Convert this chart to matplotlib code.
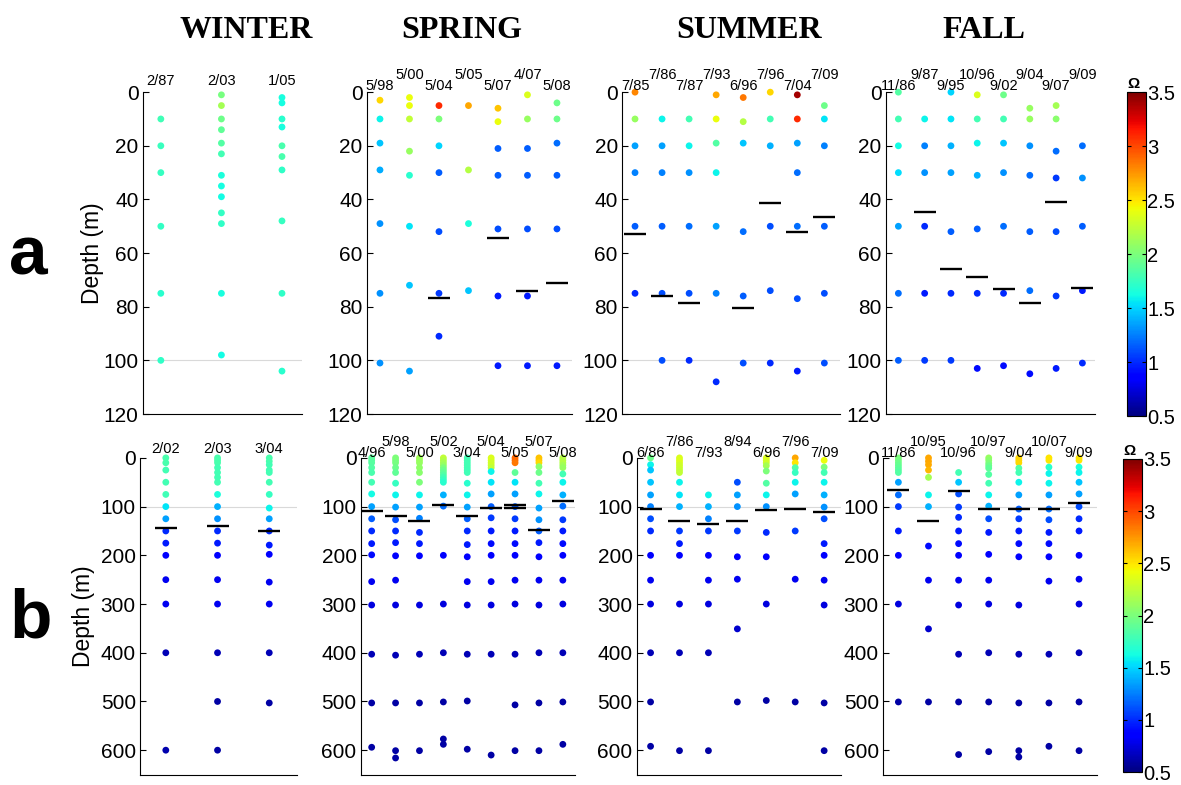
import numpy as np
import matplotlib
matplotlib.use('Agg')
import matplotlib.pyplot as plt
from matplotlib.colors import Normalize
from matplotlib.cm import ScalarMappable

plt.rcParams['font.family'] = ['Liberation Sans', 'DejaVu Sans']

# ---------------- (a) upper 120 m ----------------
a_winter_dates = ['2/87', '2/03', '1/05']
a_winter_depth = [[10, 20, 30, 50, 75, 100],
                  [1, 5, 10, 14, 19, 23, 31, 35, 39, 45, 49, 75, 98],
                  [2, 4, 10, 13, 20, 24, 29, 48, 75, 104]]
a_winter_omega = [[1.78, 1.76, 1.75, 1.74, 1.7, 1.72],
                  [1.98, 2.15, 1.95, 1.9, 1.85, 1.8, 1.66, 1.63, 1.62, 1.74, 1.72, 1.64, 1.62],
                  [1.64, 1.63, 1.7, 1.64, 1.82, 1.82, 1.72, 1.75, 1.73, 1.7]]
a_winter_horizon = [[], [], []]

a_spring_dates = ['5/98', '5/00', '5/04', '5/05', '5/07', '4/07', '5/08']
a_spring_depth = [[3, 10, 19, 29, 49, 75, 101],
                  [2, 5, 10, 22, 31, 50, 72, 104],
                  [5, 10, 20, 30, 52, 75, 91],
                  [5, 29, 49, 74],
                  [6, 11, 21, 31, 51, 76, 102],
                  [1, 10, 21, 31, 51, 76, 102],
                  [4, 10, 19, 31, 51, 102]]
a_spring_omega = [[2.55, 1.6, 1.45, 1.38, 1.3, 1.3, 1.3],
                  [2.4, 2.4, 2.25, 2.1, 1.7, 1.55, 1.45, 1.35],
                  [3.1, 2.0, 1.5, 1.15, 1.1, 1.05, 1.0],
                  [2.7, 2.2, 1.65, 1.45],
                  [2.6, 2.4, 1.15, 1.15, 1.1, 0.95, 0.95],
                  [2.35, 2.1, 1.15, 1.15, 1.1, 0.95, 0.95],
                  [1.95, 1.95, 1.2, 1.15, 1.1, 0.95]]
a_spring_horizon = [[], [], [76.6], [], [54.4], [74.3], [71.1]]

a_summer_dates = ['7/85', '7/86', '7/87', '7/93', '6/96', '7/96', '7/04', '7/09']
a_summer_depth = [[0, 10, 20, 30, 50, 75],
                  [10, 20, 30, 50, 75, 100],
                  [10, 20, 30, 50, 75, 100],
                  [1, 10, 19, 30, 50, 75, 108],
                  [2, 11, 19, 52, 76, 101],
                  [0, 10, 20, 50, 74, 101],
                  [1, 10, 19, 30, 50, 77, 104],
                  [5, 10, 20, 50, 75, 101]]
a_summer_omega = [[2.8, 2.1, 1.35, 1.25, 1.15, 1.0],
                  [1.6, 1.35, 1.25, 1.15, 1.1, 1.1],
                  [1.8, 1.6, 1.3, 1.2, 1.1, 1.0],
                  [2.7, 2.4, 1.85, 1.6, 1.35, 1.25, 1.0],
                  [2.85, 2.2, 1.45, 1.2, 1.15, 1.1],
                  [2.55, 1.8, 1.4, 1.1, 1.1, 1.0],
                  [3.4, 3.1, 1.35, 1.2, 1.2, 1.1, 0.95],
                  [1.95, 1.55, 1.25, 1.15, 1.1, 1.1]]
a_summer_horizon = [[53], [76], [78.5], [], [80.6], [41.5], [52.2], [46.5]]

a_fall_dates = ['11/86', '9/87', '9/95', '10/96', '9/02', '9/04', '9/07', '9/09']
a_fall_depth = [[0, 10, 20, 30, 50, 75, 100],
                [10, 20, 30, 50, 75, 100],
                [0, 10, 20, 30, 52, 75, 100],
                [1, 10, 19, 31, 51, 75, 103],
                [1, 10, 19, 30, 50, 75, 102],
                [6, 10, 20, 31, 52, 74, 105],
                [5, 10, 22, 32, 52, 76, 103],
                [20, 32, 50, 74, 101]]
a_fall_omega = [[1.85, 1.8, 1.62, 1.52, 1.35, 1.2, 1.15],
                [1.6, 1.25, 1.3, 1.0, 0.95, 1.05],
                [1.5, 1.55, 1.4, 1.35, 1.15, 1.0, 1.05],
                [2.35, 1.8, 1.6, 1.4, 1.15, 1.0, 0.9],
                [1.95, 1.8, 1.45, 1.3, 1.2, 1.0, 0.9],
                [2.1, 2.1, 1.3, 1.2, 1.15, 1.2, 0.9],
                [2.15, 2.05, 1.2, 1.05, 1.1, 1.05, 0.95],
                [1.2, 1.3, 1.15, 0.95, 1.0]]
a_fall_horizon = [[], [44.8], [65.8], [68.9], [73.3], [78.6], [40.8], [73]]

# ---------------- (b) full water column ----------------
b_winter_dates = ['2/02', '2/03', '3/04']
b_winter_depth = [[0, 10, 25, 50, 75, 100, 125, 150, 175, 200, 250, 300, 400, 600],
                  [0, 5, 10, 20, 30, 40, 50, 75, 100, 125, 150, 175, 200, 250, 300, 400, 500, 600],
                  [0, 7, 14, 25, 30, 50, 75, 103, 125, 150, 179, 198, 255, 300, 400, 503]]
b_winter_omega = [[1.82, 1.82, 1.8, 1.8, 1.78, 1.55, 1.35, 1.0, 0.95, 0.85, 0.8, 0.8, 0.65, 0.62],
                  [1.82, 1.82, 1.82, 1.8, 1.8, 1.8, 1.8, 1.65, 1.4, 1.3, 1.0, 0.95, 0.85, 0.8, 0.8, 0.65, 0.6, 0.6],
                  [1.82, 1.82, 1.8, 1.8, 1.8, 1.8, 1.75, 1.6, 1.35, 1.0, 0.95, 0.85, 0.8, 0.8, 0.65, 0.6]]
b_winter_horizon = [[144.5], [140], [151]]

b_spring_dates = ['4/96', '5/98', '5/00', '5/02', '3/04', '5/04', '5/05', '5/07', '5/08']
b_spring_depth = [[0, 5, 10, 20, 30, 50, 74, 100, 125, 150, 176, 199, 254, 302, 403, 503, 594],
                  [0, 5, 10, 20, 30, 52, 76, 101, 127, 150, 174, 201, 251, 302, 405, 503, 601, 616],
                  [0, 5, 10, 20, 30, 50, 76, 101, 124, 153, 176, 201, 302, 403, 503, 601],
                  [0, 5, 10, 15, 20, 25, 30, 35, 40, 45, 50, 76, 99, 200, 300, 400, 501, 577, 588],
                  [0, 5, 10, 15, 20, 25, 30, 52, 76, 101, 125, 150, 178, 203, 254, 302, 403, 499, 598],
                  [0, 5, 10, 15, 20, 28, 50, 74, 100, 123, 150, 176, 200, 254, 302, 403, 610],
                  [0, 5, 10, 30, 50, 74, 100, 125, 150, 176, 200, 251, 300, 403, 507, 601],
                  [0, 5, 10, 18, 30, 52, 74, 103, 127, 150, 174, 203, 251, 302, 400, 503, 601],
                  [0, 5, 10, 15, 20, 33, 50, 76, 99, 127, 150, 176, 200, 251, 300, 400, 501, 588]]
b_spring_omega = [[1.88, 1.88, 1.87, 1.85, 1.82, 1.8, 1.62, 1.35, 1.15, 1.0, 0.95, 0.9, 0.8, 0.75, 0.65, 0.6, 0.6],
                  [2.0, 2.0, 1.98, 1.95, 1.9, 1.75, 1.6, 1.35, 1.1, 1.0, 0.95, 0.85, 0.8, 0.75, 0.65, 0.6, 0.6, 0.6],
                  [2.15, 2.12, 2.1, 2.08, 2.05, 2.0, 1.6, 1.35, 1.25, 1.0, 0.95, 0.85, 0.75, 0.65, 0.6, 0.6],
                  [2.25, 2.2, 2.15, 2.1, 2.0, 1.95, 1.9, 1.85, 1.8, 1.75, 1.7, 1.4, 1.2, 0.85, 0.75, 0.65, 0.6, 0.6, 0.6],
                  [1.8, 1.8, 1.8, 1.8, 1.8, 1.78, 1.78, 1.7, 1.6, 1.35, 1.15, 1.0, 0.95, 0.85, 0.8, 0.75, 0.65, 0.6, 0.6],
                  [2.35, 2.35, 2.3, 2.3, 2.25, 1.6, 1.55, 1.35, 1.15, 1.05, 0.95, 0.9, 0.85, 0.8, 0.75, 0.65, 0.6],
                  [2.9, 2.9, 2.85, 1.9, 1.55, 1.35, 1.15, 1.05, 0.95, 0.9, 0.85, 0.8, 0.75, 0.65, 0.6, 0.6],
                  [2.6, 2.6, 2.55, 2.05, 1.95, 1.8, 1.6, 1.35, 1.3, 1.15, 0.95, 0.85, 0.8, 0.75, 0.65, 0.6, 0.6],
                  [2.2, 2.2, 2.2, 2.15, 2.1, 1.8, 1.6, 1.4, 1.2, 1.05, 0.95, 0.9, 0.85, 0.8, 0.75, 0.65, 0.6, 0.6]]
b_spring_horizon = [[110], [118.5], [129.5], [96], [118.5], [103], [96, 103.4], [149], [88]]

b_summer_dates = ['6/86', '7/86', '7/93', '8/94', '6/96', '7/96', '7/09']
b_summer_depth = [[0, 14, 25, 50, 76, 100, 125, 150, 200, 251, 300, 400, 501, 592],
                  [0, 5, 10, 15, 20, 25, 30, 50, 76, 100, 150, 176, 200, 300, 400, 601],
                  [76, 100, 125, 150, 200, 251, 300, 400, 601],
                  [50, 76, 100, 150, 203, 249, 351, 501],
                  [0, 5, 10, 16, 27, 52, 76, 100, 153, 203, 300, 498],
                  [0, 10, 20, 30, 50, 74, 150, 249, 501],
                  [5, 19, 30, 50, 76, 101, 125, 176, 200, 251, 302, 503, 601]]
b_summer_omega = [[1.95, 1.6, 1.45, 1.45, 1.35, 1.25, 1.1, 1.0, 0.85, 0.8, 0.75, 0.65, 0.6, 0.6],
                  [2.35, 2.35, 2.35, 2.3, 2.3, 2.28, 2.25, 1.6, 1.55, 1.4, 1.05, 0.95, 0.85, 0.75, 0.65, 0.6],
                  [1.6, 1.4, 1.25, 1.05, 0.85, 0.8, 0.75, 0.65, 0.6],
                  [1.1, 1.35, 1.3, 1.05, 0.85, 0.8, 0.7, 0.6],
                  [2.35, 2.35, 2.3, 2.15, 2.0, 1.85, 1.6, 1.3, 1.0, 0.85, 0.75, 0.6],
                  [2.7, 2.5, 1.85, 1.75, 1.6, 1.35, 1.05, 0.8, 0.6],
                  [2.4, 2.0, 1.8, 1.6, 1.4, 1.3, 1.1, 0.95, 0.85, 0.8, 0.75, 0.6, 0.6]]
b_summer_horizon = [[105], [129.5], [136], [129.5], [107], [105], [111.6]]

b_fall_dates = ['11/86', '10/95', '10/96', '10/97', '9/04', '10/07', '9/09']
b_fall_depth = [[0, 5, 10, 15, 20, 25, 30, 50, 76, 100, 150, 200, 300, 501],
                [0, 7, 14, 25, 40, 76, 100, 181, 251, 351, 501],
                [30, 50, 74, 101, 122, 150, 176, 200, 251, 302, 403, 501, 609],
                [0, 5, 11, 16, 21, 34, 52, 76, 99, 125, 153, 198, 251, 300, 400, 501, 603],
                [0, 5, 10, 21, 30, 50, 76, 105, 125, 150, 176, 203, 302, 403, 503, 601, 614],
                [0, 5, 19, 32, 52, 76, 105, 127, 153, 176, 203, 253, 403, 503, 592],
                [0, 5, 19, 30, 50, 74, 100, 125, 150, 200, 249, 300, 400, 501, 601]]
b_fall_omega = [[2.0, 1.98, 1.95, 1.92, 1.9, 1.88, 1.85, 1.35, 1.2, 1.05, 0.95, 0.85, 0.75, 0.6],
                [2.7, 2.7, 2.68, 2.65, 2.15, 1.6, 1.4, 0.9, 0.8, 0.7, 0.6],
                [1.8, 1.45, 1.1, 1.05, 1.0, 0.95, 0.9, 0.85, 0.8, 0.75, 0.65, 0.6, 0.6],
                [2.1, 2.05, 2.0, 1.95, 1.9, 1.85, 1.8, 1.6, 1.4, 1.1, 0.95, 0.85, 0.8, 0.75, 0.65, 0.6, 0.6],
                [2.55, 2.55, 2.55, 1.85, 1.8, 1.6, 1.35, 1.15, 1.05, 0.95, 0.9, 0.85, 0.75, 0.65, 0.6, 0.6, 0.6],
                [2.5, 2.5, 1.7, 1.6, 1.6, 1.35, 1.2, 1.1, 0.95, 0.9, 0.85, 0.8, 0.65, 0.6, 0.6],
                [2.5, 2.5, 1.65, 1.6, 1.45, 1.35, 1.1, 1.0, 0.95, 0.85, 0.8, 0.75, 0.65, 0.6, 0.6]]
b_fall_horizon = [[66], [129.5], [67], [105], [105], [105], [92]]

seasons = ['WINTER', 'SPRING', 'SUMMER', 'FALL']
omega_ticks = [0.5, 1, 1.5, 2, 2.5, 3, 3.5]

cmap = plt.get_cmap('jet')
norm = Normalize(vmin=0.5, vmax=3.5)


def draw_panel(ax, dates, depths, omegas, horizons, ymax, yticks, xlim,
               lab_single, lab_low, lab_high):
    x = np.arange(1, len(dates) + 1)
    ax.axhline(100, color='0.85', lw=0.8, zorder=0)
    for i in range(len(dates)):
        d = np.array(depths[i], dtype=float)
        ax.scatter(np.full(len(d), x[i]), d, c=omegas[i], cmap=cmap, norm=norm,
                   s=24, linewidths=0, clip_on=False, zorder=2)
        for h in horizons[i]:
            ax.plot(x[i], h, marker='_', ms=16.5, mew=1.7, color='k',
                    clip_on=False, zorder=3)
        if len(dates) <= 3:
            dy = lab_single
        else:
            dy = lab_low if i % 2 == 0 else lab_high
        ax.annotate(dates[i], (x[i], 0), xytext=(0, dy), textcoords='offset points',
                    ha='center', va='center', fontsize=10.5, annotation_clip=False)
    ax.set_xlim(*xlim)
    ax.set_ylim(ymax, 0)
    ax.set_yticks(yticks)
    ax.set_xticks([])
    ax.spines['top'].set_visible(False)
    ax.spines['right'].set_visible(False)
    ax.spines['left'].set_linewidth(0.8)
    ax.spines['bottom'].set_linewidth(0.8)
    ax.tick_params(axis='y', direction='in', length=4, width=0.8, labelsize=15, pad=3)


fig = plt.figure(figsize=(11.81, 7.85), dpi=100)

top_pos = [(0.1208, 0.4726, 0.1349, 0.410), (0.3105, 0.4726, 0.1736, 0.410),
           (0.5267, 0.4726, 0.1846, 0.410), (0.7500, 0.4726, 0.1772, 0.410)]
bot_pos = [(0.1185, 0.0127, 0.1327, 0.404), (0.3054, 0.0127, 0.1815, 0.404),
           (0.5391, 0.0127, 0.1727, 0.404), (0.7477, 0.0127, 0.1810, 0.404)]
top_xlim = [(0.70, 3.33), (0.55, 7.50), (0.52, 8.58), (0.52, 8.48)]
bot_xlim = [(0.50, 3.53), (0.54, 9.51), (0.52, 7.57), (0.49, 7.59)]

top_sets = [(a_winter_dates, a_winter_depth, a_winter_omega, a_winter_horizon),
            (a_spring_dates, a_spring_depth, a_spring_omega, a_spring_horizon),
            (a_summer_dates, a_summer_depth, a_summer_omega, a_summer_horizon),
            (a_fall_dates, a_fall_depth, a_fall_omega, a_fall_horizon)]
bot_sets = [(b_winter_dates, b_winter_depth, b_winter_omega, b_winter_horizon),
            (b_spring_dates, b_spring_depth, b_spring_omega, b_spring_horizon),
            (b_summer_dates, b_summer_depth, b_summer_omega, b_summer_horizon),
            (b_fall_dates, b_fall_depth, b_fall_omega, b_fall_horizon)]

for k in range(4):
    ax = fig.add_axes(top_pos[k])
    draw_panel(ax, *top_sets[k], ymax=120, yticks=range(0, 121, 20), xlim=top_xlim[k],
               lab_single=7.9, lab_low=4.3, lab_high=12.2)
    if k == 0:
        ax.set_ylabel('Depth (m)', fontsize=16.5)
        ax.yaxis.set_label_coords(-0.245, 0.5)

    ax = fig.add_axes(bot_pos[k])
    draw_panel(ax, *bot_sets[k], ymax=651, yticks=range(0, 601, 100), xlim=bot_xlim[k],
               lab_single=6.5, lab_low=3.6, lab_high=11.5)
    if k == 0:
        ax.set_ylabel('Depth (m)', fontsize=16.5)
        ax.yaxis.set_label_coords(-0.29, 0.5)

# season headings
for name, xc in zip(seasons, [246, 462, 749, 984]):
    fig.text(xc / 1181, 1 - 38 / 785, name, ha='center', va='baseline',
             family='Liberation Serif', fontweight='bold', fontsize=23)

# row letters
fig.text(0.008, 1 - 275 / 785, 'a', ha='left', va='baseline', fontsize=50, fontweight='bold')
fig.text(0.008, 1 - 637 / 785, 'b', ha='left', va='baseline', fontsize=50, fontweight='bold')

# colour bars
sm = ScalarMappable(norm=norm, cmap=cmap)
for pos in [(0.9543, 0.470, 0.0161, 0.4127), (0.9509, 0.0165, 0.0161, 0.3988)]:
    cax = fig.add_axes(pos)
    cb = fig.colorbar(sm, cax=cax, ticks=omega_ticks)
    cb.ax.set_yticklabels(['%g' % t for t in omega_ticks])
    cb.outline.set_linewidth(0.8)
    cax.yaxis.set_ticks_position('both')
    cax.tick_params(direction='in', length=3, width=0.8, labelsize=14.5, pad=1,
                    labelleft=False, labelright=True)
    cax.set_title('Ω', fontsize=11, fontweight='bold', pad=3, loc='left')

fig.savefig('out.png', dpi=100)
